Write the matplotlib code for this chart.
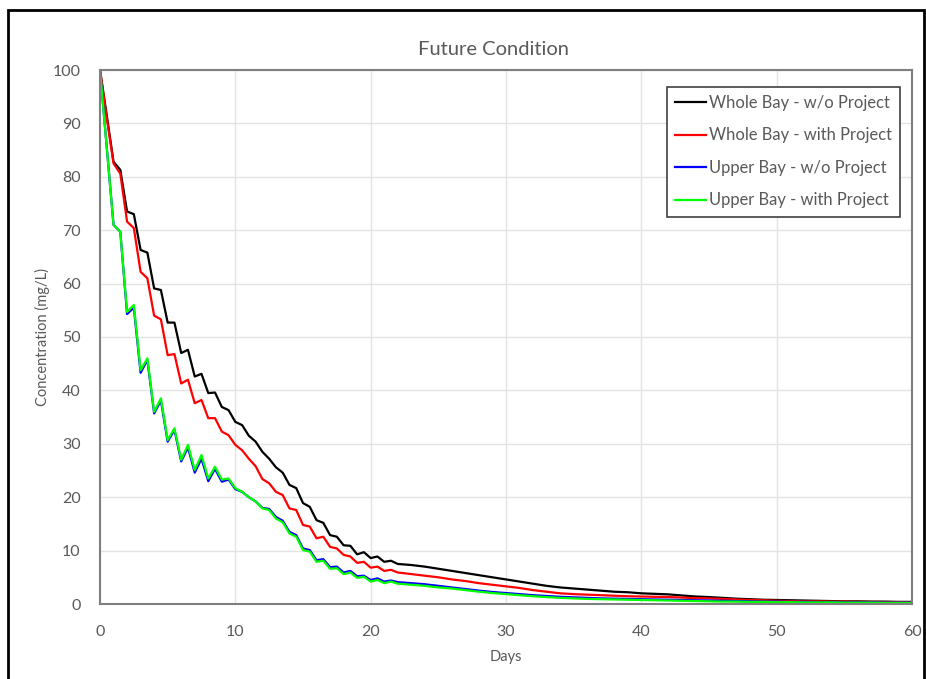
import matplotlib.pyplot as plt
from matplotlib.patches import Rectangle

# Days sampled every half day up to day 22, then daily
days = [0, 0.5, 1, 1.5, 2, 2.5, 3, 3.5, 4, 4.5, 5, 5.5, 6, 6.5, 7, 7.5, 8, 8.5, 9, 9.5,
        10, 10.5, 11, 11.5, 12, 12.5, 13, 13.5, 14, 14.5, 15, 15.5, 16, 16.5, 17, 17.5,
        18, 18.5, 19, 19.5, 20, 20.5, 21, 21.5, 22,
        23, 24, 25, 26, 27, 28, 29, 30, 31, 32, 33, 34, 35, 36, 37, 38, 39, 40, 41, 42,
        43, 44, 45, 46, 47, 48, 49, 50, 51, 52, 53, 54, 55, 56, 57, 58, 59, 60]

whole_wo = [100, 91.5, 82.8, 81.3, 73.5, 73.0, 66.3, 65.8, 59.1, 58.8, 52.7, 52.7, 47.0, 47.6,
            42.6, 43.1, 39.5, 39.6, 36.9, 36.3, 34.1, 33.5, 31.5, 30.4, 28.5, 27.2, 25.6, 24.6,
            22.3, 21.7, 18.9, 18.2, 15.7, 15.2, 12.9, 12.6, 11.0, 10.9, 9.3, 9.7, 8.6, 8.9,
            7.9, 8.1, 7.5,
            7.3, 7.0, 6.6, 6.2, 5.8, 5.4, 5.0, 4.6, 4.2, 3.8, 3.4, 3.1, 2.9, 2.7, 2.5, 2.3,
            2.2, 2.0, 1.9, 1.8, 1.6, 1.4, 1.3, 1.15, 1.0, 0.9, 0.8, 0.75, 0.7, 0.65, 0.6,
            0.55, 0.5, 0.5, 0.45, 0.45, 0.4, 0.4]

whole_with = [100, 91.0, 82.5, 80.6, 71.6, 70.4, 62.2, 61.0, 54.0, 53.3, 46.6, 46.8, 41.3, 42.0,
              37.6, 38.2, 34.8, 34.8, 32.3, 31.6, 29.8, 28.8, 27.2, 25.8, 23.4, 22.6, 21.0, 20.4,
              17.9, 17.6, 14.8, 14.5, 12.3, 12.6, 10.7, 10.4, 9.2, 8.9, 7.7, 7.9, 6.8, 7.0,
              6.2, 6.4, 5.9,
              5.6, 5.3, 5.0, 4.6, 4.3, 3.9, 3.6, 3.3, 3.0, 2.6, 2.3, 2.0, 1.85, 1.75, 1.65, 1.55,
              1.45, 1.4, 1.35, 1.3, 1.2, 1.1, 1.05, 0.95, 0.85, 0.75, 0.7, 0.6, 0.55, 0.5, 0.5,
              0.45, 0.45, 0.4, 0.4, 0.35, 0.35, 0.3]

upper_wo = [100, 85.5, 71.0, 69.7, 54.3, 55.5, 43.3, 45.7, 35.7, 38.1, 30.4, 32.6, 26.7, 29.3,
            24.6, 27.2, 23.0, 25.3, 22.9, 23.3, 21.5, 21.0, 20.0, 19.2, 18.0, 17.8, 16.3, 15.6,
            13.5, 12.9, 10.4, 10.1, 8.2, 8.4, 6.9, 7.0, 5.9, 6.2, 5.2, 5.3, 4.5, 4.8,
            4.2, 4.4, 4.1,
            3.9, 3.7, 3.4, 3.1, 2.8, 2.5, 2.25, 2.05, 1.85, 1.65, 1.5, 1.35, 1.25, 1.15, 1.05,
            1.0, 0.95, 0.9, 0.85, 0.8, 0.75, 0.7, 0.65, 0.6, 0.55, 0.5, 0.45, 0.45, 0.4, 0.4,
            0.35, 0.35, 0.3, 0.3, 0.3, 0.25, 0.25, 0.25]

upper_with = [100, 85.5, 71.0, 69.7, 54.7, 56.0, 43.8, 46.0, 36.0, 38.5, 30.7, 32.9, 27.0, 29.8,
              25.1, 27.9, 23.5, 25.7, 23.3, 23.5, 21.7, 21.0, 20.0, 19.2, 17.9, 17.6, 16.0, 15.3,
              13.2, 12.6, 10.1, 9.8, 7.9, 8.1, 6.6, 6.7, 5.6, 5.9, 4.9, 5.1, 4.2, 4.5,
              3.9, 4.2, 3.8,
              3.6, 3.4, 3.1, 2.9, 2.6, 2.3, 2.05, 1.85, 1.65, 1.45, 1.3, 1.15, 1.05, 0.95, 0.9,
              0.85, 0.8, 0.75, 0.7, 0.65, 0.6, 0.55, 0.5, 0.45, 0.45, 0.4, 0.4, 0.35, 0.35, 0.3,
              0.3, 0.3, 0.25, 0.25, 0.25, 0.2, 0.2, 0.2]

SERIES = [("Whole Bay - w/o Project", whole_wo, "#000000"),
          ("Whole Bay - with Project", whole_with, "#FF0000"),
          ("Upper Bay - w/o Project", upper_wo, "#0000FF"),
          ("Upper Bay - with Project", upper_with, "#00FF00")]

TEXT_COLOR = "#595959"

plt.rcParams['font.family'] = ['Lato', 'DejaVu Sans']

fig = plt.figure(figsize=(9.26, 6.79), dpi=100)
ax = fig.add_axes([100 / 926, 1 - 604 / 679, 812 / 926, 534 / 679])

# Plot each series
for label, values, color in SERIES:
    ax.plot(days, values, color=color, linewidth=1.6, label=label)

ax.set_xlim(0, 60)
ax.set_ylim(0, 100)
ax.set_xticks(range(0, 61, 10))
ax.set_yticks(range(0, 101, 10))
ax.grid(color='#E3E3E3', linewidth=1)
ax.set_axisbelow(True)
ax.tick_params(axis='x', length=0, labelsize=11.5, labelcolor=TEXT_COLOR, pad=15)
ax.tick_params(axis='y', length=0, labelsize=11.5, labelcolor=TEXT_COLOR, pad=14)

for side in ['top', 'right', 'left', 'bottom']:
    ax.spines[side].set_color('#7F7F7F')
    ax.spines[side].set_linewidth(1.5)

ax.set_title('Future Condition', fontsize=14.5, color=TEXT_COLOR, pad=11, x=0.484)
ax.set_xlabel('Days', fontsize=10.5, color=TEXT_COLOR, labelpad=8)
ax.set_ylabel('Concentration (mg/L)', fontsize=10.5, color=TEXT_COLOR, labelpad=2)

leg = ax.legend(loc='upper right', bbox_to_anchor=(0.9853, 0.969), fontsize=11.9,
                handlelength=1.9, handletextpad=0.15, labelspacing=1.0,
                fancybox=False, framealpha=1, borderpad=0.5, borderaxespad=0)
leg.get_frame().set_edgecolor('#404040')
leg.get_frame().set_linewidth(1.2)
for t in leg.get_texts():
    t.set_color(TEXT_COLOR)

# Outer chart border
fig.patches.append(Rectangle((8 / 926, -0.05), 916 / 926, 1.05 - 10 / 679,
                             transform=fig.transFigure, fill=False,
                             edgecolor='black', linewidth=2))

plt.savefig('out.png', dpi=100)
